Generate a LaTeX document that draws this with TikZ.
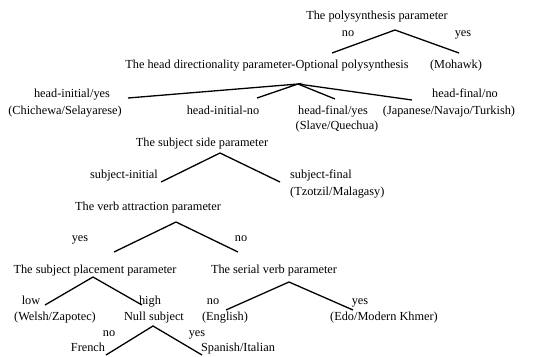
\documentclass[tikz,border=0pt]{standalone}
\usepackage{fontspec}
\setmainfont{Liberation Serif}
\begin{document}
\begin{tikzpicture}[x=1pt,y=-1pt,
  lbl/.style={inner sep=0pt,anchor=base,font=\fontsize{12.3}{14}\selectfont},
  lbll/.style={lbl,anchor=base west},
  br/.style={line width=1.3pt}]
\useasboundingbox (0,0) rectangle (559,356);
% level 1
\node[lbl] (poly) at (377,19) {The polysynthesis parameter};
\node[lbl] (pno) at (348,36) {no};
\node[lbl] (pyes) at (463,36) {yes};
\coordinate (a1) at (395,30);
\coordinate (a1l) at (332,53);
\coordinate (a1r) at (459,53);
\draw[br] (a1l) -- (a1) -- (a1r);
\node[lbl] (head) at (267,68) {The head directionality parameter-Optional polysynthesis};
\node[lbl] (mohawk) at (456,68) {(Mohawk)};
% level 2
\coordinate (a2) at (298,84);
\coordinate (h1) at (128,98);
\coordinate (h2) at (257,98);
\coordinate (h3) at (335,99);
\coordinate (h4) at (412,100);
\draw[br] (h1) -- (a2) -- (h2);
\draw[br] (a2) -- (h3);
\draw[br] (a2) -- (h4);
\node[lbl] (hiy) at (72,97) {head-initial/yes};
\node[lbl] (chi) at (65,114) {(Chichewa/Selayarese)};
\node[lbl] (hin) at (223,114) {head-initial-no};
\node[lbl] (hfy) at (333,114) {head-final/yes};
\node[lbl] (sla) at (337,129) {(Slave/Quechua)};
\node[lbl] (hfn) at (465,97) {head-final/no};
\node[lbl] (jap) at (449,114) {(Japanese/Navajo/Turkish)};
% subject side
\node[lbl] (ssp) at (202,146) {The subject side parameter};
\coordinate (a3) at (220,153);
\coordinate (s1) at (161,182);
\coordinate (s2) at (280,182);
\draw[br] (s1) -- (a3) -- (s2);
\node[lbl] (sini) at (124,178) {subject-initial};
\node[lbll] (sfin) at (290,178) {subject-final};
\node[lbll] (tzo) at (290,195) {(Tzotzil/Malagasy)};
% verb attraction
\node[lbl] (vap) at (148,210) {The verb attraction parameter};
\coordinate (a4) at (176,222);
\coordinate (v1) at (114,252);
\coordinate (v2) at (238,252);
\draw[br] (v1) -- (a4) -- (v2);
\node[lbl] (vyes) at (80,241) {yes};
\node[lbl] (vno) at (241,241) {no};
% subject placement
\node[lbl] (spp) at (95,273) {The subject placement parameter};
\coordinate (a5) at (93,277);
\coordinate (p1) at (45,305);
\coordinate (p2) at (142,305);
\draw[br] (p1) -- (a5) -- (p2);
\node[lbl] (low) at (31,304) {low};
\node[lbl] (high) at (150,304) {high};
\node[lbl] (wel) at (55,320) {(Welsh/Zapotec)};
\node[lbl] (nul) at (154,320) {Null subject};
% serial verb
\node[lbl] (svp) at (274,273) {The serial verb parameter};
\coordinate (a6) at (289,282);
\coordinate (e1) at (226,310);
\coordinate (e2) at (353,310);
\draw[br] (e1) -- (a6) -- (e2);
\node[lbl] (eno) at (213,304) {no};
\node[lbl] (eyes) at (360,304) {yes};
\node[lbl] (eng) at (225,320) {(English)};
\node[lbl] (edo) at (384,320) {(Edo/Modern Khmer)};
% null subject
\coordinate (a7) at (153,326);
\coordinate (n1) at (106,355);
\coordinate (n2) at (202,355);
\draw[br] (n1) -- (a7) -- (n2);
\node[lbl] (nno) at (109,336) {no};
\node[lbl] (nyes) at (197,336) {yes};
\node[lbl] (fre) at (88,351) {French};
\node[lbl] (spa) at (238,351) {Spanish/Italian};
\end{tikzpicture}
\end{document}
